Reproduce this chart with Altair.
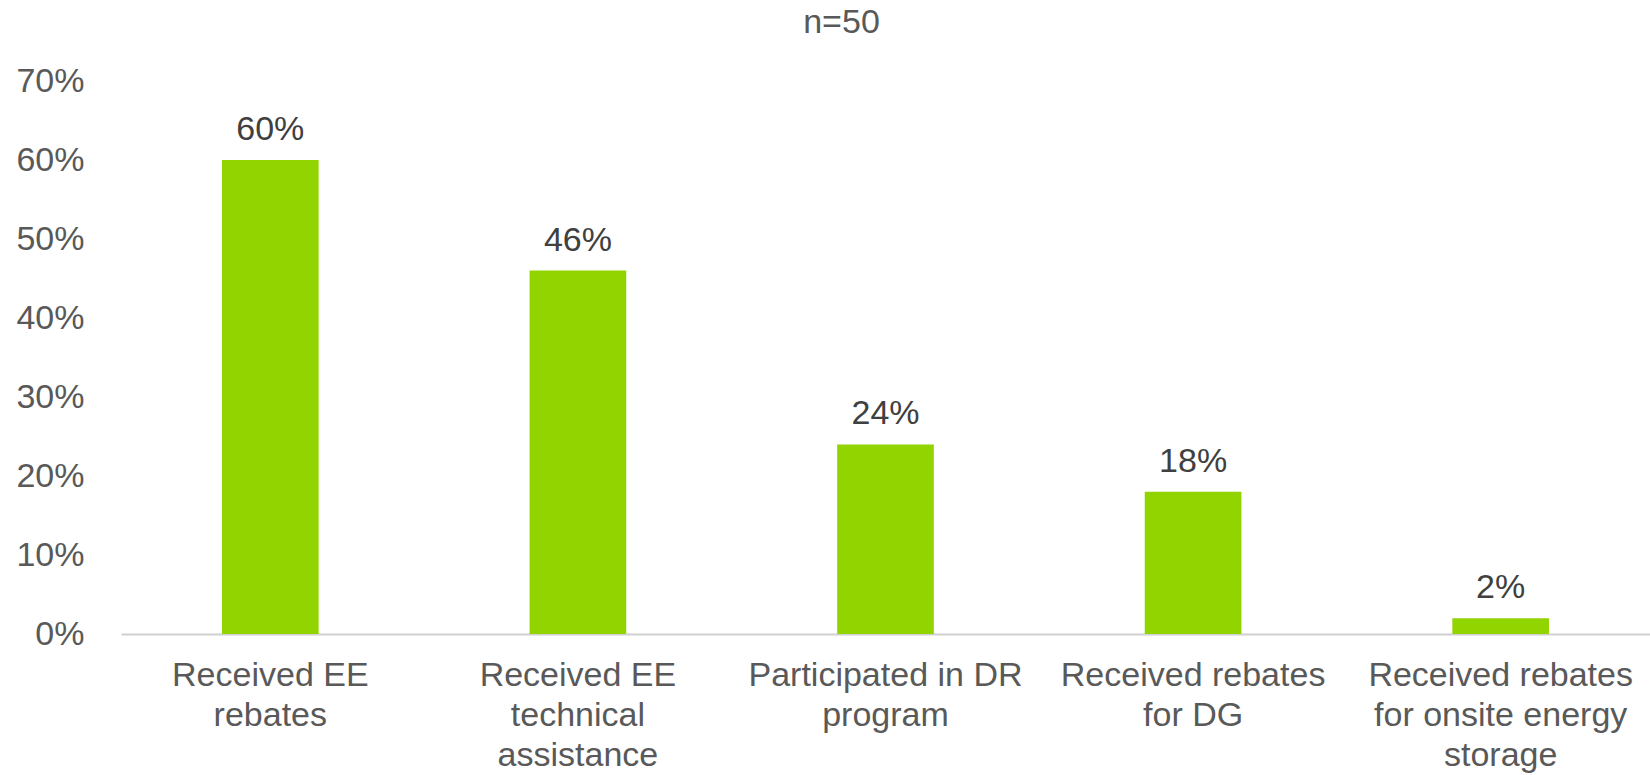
import altair as alt
import pandas as pd

categories = [
    "Received EE|rebates",
    "Received EE|technical|assistance",
    "Participated in DR|program",
    "Received rebates|for DG",
    "Received rebates|for onsite energy|storage",
]
values = [0.60, 0.46, 0.24, 0.18, 0.02]
y_ticks = [0, 0.1, 0.2, 0.3, 0.4, 0.5, 0.6, 0.7]

df = pd.DataFrame({"category": categories, "value": values})

FONT = "Liberation Sans"
TEXT = "#595959"
FS = 34

x_enc = alt.X(
    "category:N",
    sort=categories,
    title=None,
    scale=alt.Scale(paddingInner=0.6857, paddingOuter=0.3283),
    axis=alt.Axis(
        labelAngle=0,
        labelExpr="split(datum.label, '|')",
        labelFontSize=FS,
        labelFont=FONT,
        labelColor=TEXT,
        labelLineHeight=40,
        labelPadding=24,
        labelBaseline="top",
        labelLimit=400,
        ticks=False,
        domainColor="#D0D0D0",
        domainWidth=2,
    ),
)

y_enc = alt.Y(
    "value:Q",
    title=None,
    scale=alt.Scale(domain=[0, 0.7], nice=False),
    axis=alt.Axis(
        values=y_ticks,
        format=".0%",
        grid=False,
        domain=False,
        ticks=False,
        labelFontSize=FS,
        labelFont=FONT,
        labelColor=TEXT,
        labelPadding=37,
    ),
)

bars = alt.Chart(df).mark_bar(color="#92D400").encode(x=x_enc, y=y_enc)

labels = alt.Chart(df).mark_text(
    baseline="alphabetic", dy=-20, fontSize=FS, font=FONT, color="#404040"
).encode(
    x=alt.X("category:N", sort=categories),
    y="value:Q",
    text=alt.Text("value:Q", format=".0%"),
)

chart = (
    alt.layer(bars, labels)
    .properties(
        width=1529,
        height=553,
        autosize=alt.AutoSizeParams(type="none"),
        padding={"left": 121, "top": 81, "right": 0, "bottom": 141},
        title=alt.TitleParams(
            "n=50",
            fontSize=FS,
            font=FONT,
            color=TEXT,
            fontWeight="normal",
            anchor="middle",
            dx=-44,
            offset=24,
        ),
    )
    .configure_view(stroke=None)
)

chart.save("out.html", embed_options={"renderer": "svg", "actions": False})
